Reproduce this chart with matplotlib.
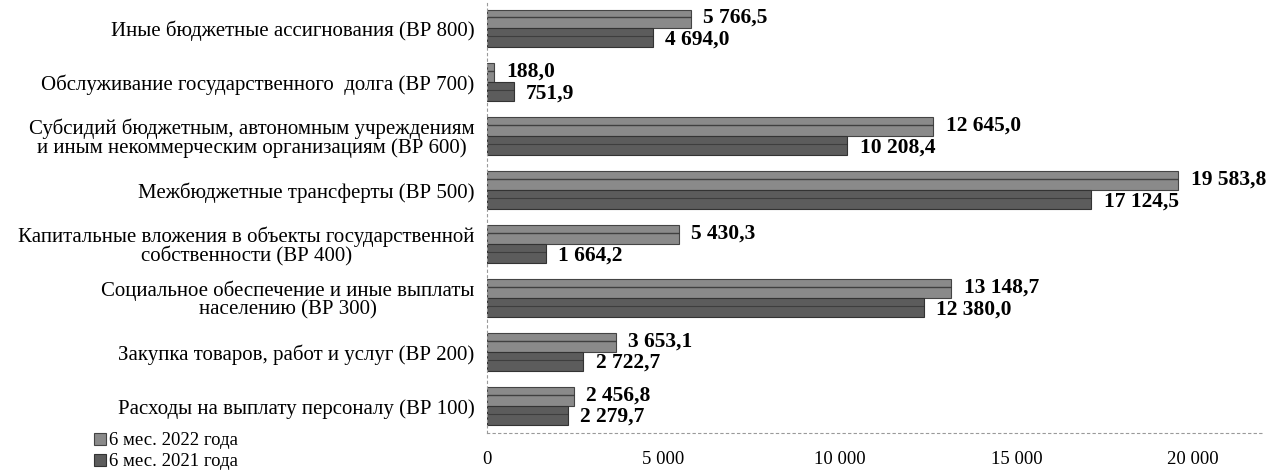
import matplotlib.pyplot as plt
from matplotlib.ticker import FuncFormatter

plt.rcParams['font.family'] = ['Liberation Serif', 'DejaVu Serif']

# categories from bottom to top
categories = [
    'Расходы на выплату персоналу (ВР 100)',
    'Закупка товаров, работ и услуг (ВР 200)',
    'Социальное обеспечение и иные выплаты\nнаселению (ВР 300)',
    'Капитальные вложения в объекты государственной\nсобственности (ВР 400)',
    'Межбюджетные трансферты (ВР 500)',
    'Субсидий бюджетным, автономным учреждениям\nи иным некоммерческим организациям (ВР 600)',
    'Обслуживание государственного  долга (ВР 700)',
    'Иные бюджетные ассигнования (ВР 800)',
]
vals_2022 = [2456.8, 3653.1, 13148.7, 5430.3, 19583.8, 12645.0, 188.0, 5766.5]
vals_2021 = [2279.7, 2722.7, 12380.0, 1664.2, 17124.5, 10208.4, 751.9, 4694.0]
series_names = ['6 мес. 2022 года', '6 мес. 2021 года']
xticks = [0, 5000, 10000, 15000, 20000]


def fmt(v):
    return f'{v:,.1f}'.replace(',', ' ').replace('.', ',')


fig = plt.figure(figsize=(12.75, 4.75), dpi=100)
ax = fig.add_axes([0.382, 0.088, 0.609, 0.909])

y = list(range(len(categories)))
h = 0.35
y22 = [i + h / 2 for i in y]
y21 = [i - h / 2 for i in y]
b1 = ax.barh(y22, vals_2022, height=h, color='#8a8a8a',
             edgecolor='#444444', linewidth=0.8, label=series_names[0])
b2 = ax.barh(y21, vals_2021, height=h, color='#5c5c5c',
             edgecolor='#333333', linewidth=0.8, label=series_names[1])

# darker line along each bar (scanned 3D look)
ax.hlines([v + 0.04 for v in y22], 0, vals_2022, color='#2e2e2e', lw=1.0, alpha=0.8)
ax.hlines([v + 0.04 for v in y21], 0, vals_2021, color='#2a2a2a', lw=0.8, alpha=0.6)

for i in y:
    ax.annotate(fmt(vals_2022[i]), (vals_2022[i], y22[i]), xytext=(9, 1),
                textcoords='offset points', va='center', ha='left',
                fontsize=15.5, fontweight='bold')
    ax.annotate(fmt(vals_2021[i]), (vals_2021[i], y21[i]), xytext=(9, -1),
                textcoords='offset points', va='center', ha='left',
                fontsize=15.5, fontweight='bold')

ax.set_xlim(0, 22000)
ax.set_ylim(-0.5, 7.5)
ax.set_yticks(y)
ax.set_yticklabels(categories, fontsize=15, multialignment='center',
                   linespacing=0.95)
ax.set_xticks(xticks)
ax.xaxis.set_major_formatter(FuncFormatter(lambda v, p: f'{int(v):,}'.replace(',', ' ')))
ax.tick_params(axis='x', length=0, pad=13, labelsize=13.5)
ax.tick_params(axis='y', length=0, pad=9)

for s in ['top', 'right']:
    ax.spines[s].set_visible(False)
for s in ['left', 'bottom']:
    ax.spines[s].set_linestyle((0, (2, 3)))
    ax.spines[s].set_color('#9a9a9a')
    ax.spines[s].set_linewidth(0.8)

fig.legend(handles=[b1, b2], loc='upper left', bbox_to_anchor=(0.074, 0.09),
           frameon=False, fontsize=13.5, handlelength=0.6, handleheight=0.6,
           handletextpad=0.2, labelspacing=0.22, borderpad=0, borderaxespad=0)

fig.savefig('out.png', dpi=100)
